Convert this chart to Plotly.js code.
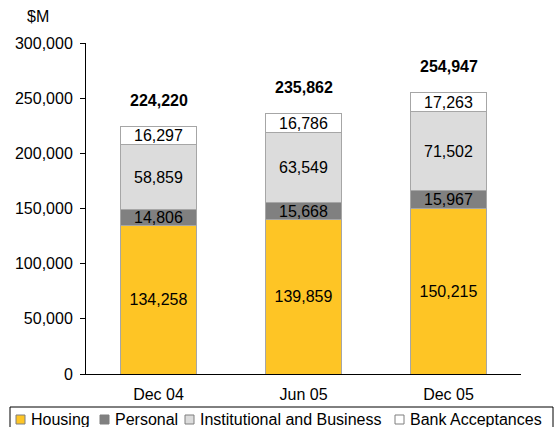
<!DOCTYPE html>
<html>
<head>
<meta charset="utf-8">
<script src="https://cdn.plot.ly/plotly-3.0.1.min.js"></script>
<style>html,body{margin:0;padding:0;background:#fff}#chart{width:554px;height:427px}</style>
</head>
<body>
<div id="chart"></div>
<script>
var categories = ["Dec 04", "Jun 05", "Dec 05"];
var housing = [134258, 139859, 150215];
var personal = [14806, 15668, 15967];
var institutional = [58859, 63549, 71502];
var bankAcceptances = [16297, 16786, 17263];
var totals = [224220, 235862, 254947];
var yTickVals = [0, 50000, 100000, 150000, 200000, 250000, 300000];
var seriesNames = ["Housing", "Personal", "Institutional and Business", "Bank Acceptances"];

var font = "Liberation Sans, Arial, sans-serif";
var colors = ["#FEC525", "#808080", "#DCDCDC", "#FFFFFF"];
var values = [housing, personal, institutional, bankAcceptances];

// plot area geometry (px)
var W = 554, H = 427, L = 86, R = 33, T = 43, B = 53;
var pw = W - L - R, ph = H - T - B;
function px(x) { return (x - L) / pw; }
function py(y) { return (H - B - y) / ph; }

var data = seriesNames.map(function (name, k) {
  return {
    type: "bar", name: name, x: categories, y: values[k],
    marker: {color: colors[k], line: {color: "#a6a6a6", width: 1}},
    texttemplate: "%{y:,}", textposition: "inside", insidetextanchor: "middle",
    constraintext: "none",
    textfont: {family: font, size: 16, color: "#000"},
    hoverinfo: "skip", showlegend: false
  };
});

var annotations = categories.map(function (c, i) {
  return {x: c, y: totals[i], xref: "x", yref: "y", yanchor: "middle", yshift: 26,
    text: "<b>" + totals[i].toLocaleString("en-US") + "</b>", showarrow: false,
    font: {family: font, size: 16, color: "#000"}};
});
annotations.push({xref: "paper", yref: "paper", x: px(38), y: py(17), xanchor: "center", yanchor: "middle",
  text: "$M", showarrow: false, font: {family: font, size: 16, color: "#000"}});

// custom legend (single row, boxed)
var shapes = [{type: "rect", xref: "paper", yref: "paper", x0: px(10), x1: px(553), y0: py(407), y1: py(432),
  line: {color: "#000", width: 1}, fillcolor: "rgba(0,0,0,0)"}];
var legendX = [16, 100, 185, 395];
seriesNames.forEach(function (name, k) {
  var sx = legendX[k];
  shapes.push({type: "rect", xref: "paper", yref: "paper", x0: px(sx), x1: px(sx + 9), y0: py(415), y1: py(424),
    line: {color: "#7f7f7f", width: 1}, fillcolor: colors[k]});
  annotations.push({xref: "paper", yref: "paper", x: px(sx + 13), y: py(419), xanchor: "left", yanchor: "middle",
    text: name, showarrow: false, font: {family: font, size: 16, color: "#000"}});
});

var layout = {
  width: W, height: H,
  margin: {l: L, r: R, t: T, b: B},
  paper_bgcolor: "#fff", plot_bgcolor: "#fff",
  barmode: "stack", bargap: 0.48,
  font: {family: font, size: 16, color: "#000"},
  xaxis: {showline: true, linecolor: "#000", linewidth: 1, ticks: "", showgrid: false,
    ticklabelstandoff: 6, tickfont: {family: font, size: 16}},
  yaxis: {range: [0, 300000], tickvals: yTickVals, tickformat: ",d", showline: true, linecolor: "#000",
    linewidth: 1, ticks: "outside", ticklen: 5, tickcolor: "#000", showgrid: false, zeroline: false,
    ticklabelstandoff: 4, tickfont: {family: font, size: 16}},
  showlegend: false,
  annotations: annotations,
  shapes: shapes
};
Plotly.newPlot("chart", data, layout, {displayModeBar: false, staticPlot: true});
</script>
</body>
</html>
